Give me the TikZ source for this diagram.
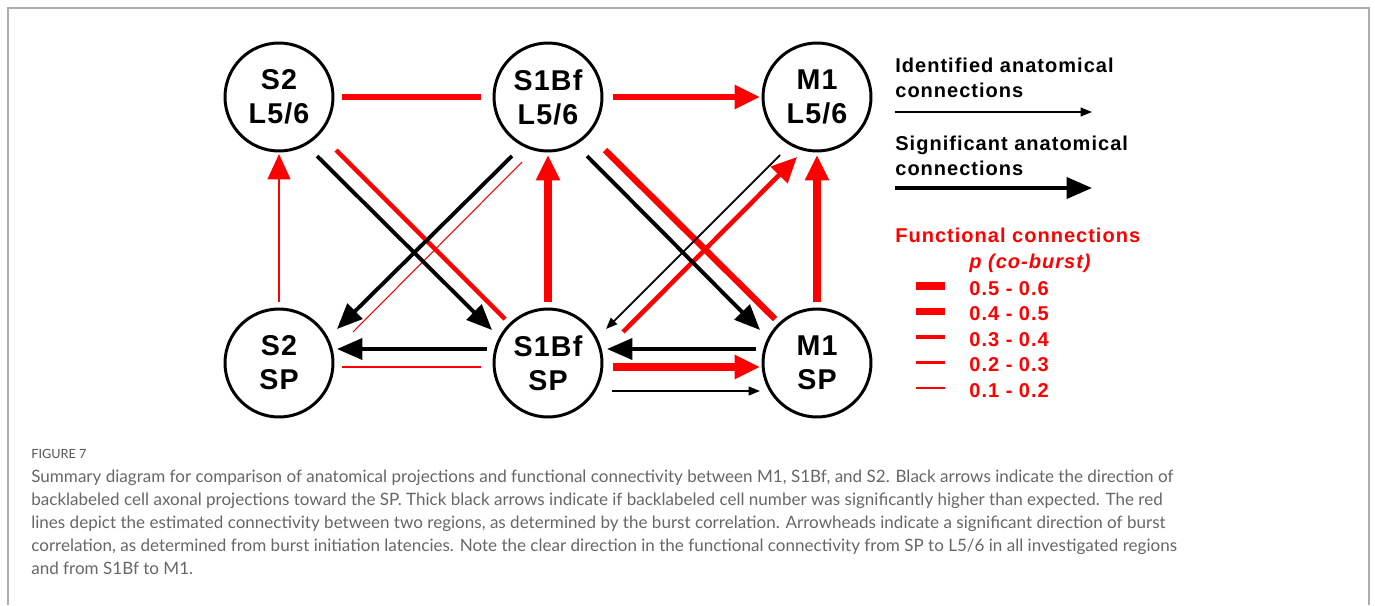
\documentclass[tikz,border=0pt]{standalone}
\usepackage{fontspec}
\setmainfont{Liberation Sans}
\newfontfamily\capfont{Lato}
\newfontfamily\legfont[LetterSpace=5]{Liberation Sans}
\newfontfamily\areafont[LetterSpace=4]{Liberation Sans}
\usetikzlibrary{arrows.meta}
\definecolor{capgray}{HTML}{666666}
\definecolor{figgray}{HTML}{555555}
\definecolor{framegray}{HTML}{ADADAD}

\begin{document}
\begin{tikzpicture}[x=0.02cm, y=-0.02cm,
	area/.style={circle, draw, line width=1.7pt, minimum size=2.16cm, inner sep=0pt, align=center, font=\areafont\fontsize{16.3}{19.3}\selectfont\bfseries},
	sig/.style={line width=2.2pt, -{Triangle[length=14.5pt,width=12pt]}},
	ident/.style={line width=1pt, -{Triangle[length=6.5pt,width=5pt]}},
	fhead/.style={-{Triangle[length=14.5pt,width=13pt]}},
	p56/.style={red, line width=4.3pt},
	p45/.style={red, line width=3.6pt},
	p34/.style={red, line width=2.6pt},
	p23/.style={red, line width=1.15pt},
	p12/.style={red, line width=0.6pt},
	legtxt/.style={font=\legfont\fontsize{11.4}{14.2}\selectfont\bfseries, inner sep=0pt, anchor=base west, align=left},
	captxt/.style={font=\capfont\fontsize{9.7}{13}\selectfont, text=capgray, inner sep=0pt, anchor=base west, align=left}
	]
	\useasboundingbox (0,0) rectangle (1375,605);
	\draw[framegray, line width=0.85pt] (8,605) -- (8,8) -- (1369,8) -- (1369,605);

	% areas
	\node[area] (s2l) at (279,97) {S2\\L5/6};
	\node[area] (s1l) at (548,97) {S1Bf\\L5/6};
	\node[area] (m1l) at (817,97) {M1\\L5/6};
	\node[area] (s2sp) at (279,363) {S2\\SP};
	\node[area] (s1sp) at (548,363) {S1Bf\\SP};
	\node[area] (m1sp) at (817,363) {M1\\SP};

	% functional connections
	\draw[p45] ([shift={(63,0)}]s2l.center) -- ([shift={(-67,0)}]s1l.center);
	\draw[p45, fhead] ([shift={(65,0)}]s1l.center) -- ([shift={(-57,0)}]m1l.center);
	\draw[p23, fhead] ([shift={(0,-61)}]s2sp.center) -- ([shift={(0,57)}]s2l.center);
	\draw[p56, fhead] ([shift={(0,-61)}]s1sp.center) -- ([shift={(0,58)}]s1l.center);
	\draw[p56, fhead] ([shift={(0,-61)}]m1sp.center) -- ([shift={(0,58)}]m1l.center);
	\draw[p34] ([shift={(57,53)}]s2l.center) -- ([shift={(-43,-44)}]s1sp.center);
	\draw[p12] ([shift={(-26,65)}]s1l.center) -- ([shift={(74,-31)}]s2sp.center);
	\draw[p45] ([shift={(57,53)}]s1l.center) -- ([shift={(-42,-44)}]m1sp.center);
	\draw[p34, fhead] ([shift={(75,-31)}]s1sp.center) -- ([shift={(-20,60)}]m1l.center);
	\draw[p23] ([shift={(-67,4)}]s1sp.center) -- ([shift={(63,4)}]s2sp.center);
	\draw[p56, fhead] ([shift={(65,4)}]s1sp.center) -- ([shift={(-57,4)}]m1sp.center);

	% anatomical connections
	\draw[sig] ([shift={(38,59)}]s2l.center) -- ([shift={(-56,-33)}]s1sp.center);
	\draw[sig] ([shift={(-36,59)}]s1l.center) -- ([shift={(58,-34)}]s2sp.center);
	\draw[sig] ([shift={(39,59)}]s1l.center) -- ([shift={(-57,-33)}]m1sp.center);
	\draw[ident] ([shift={(-37,58)}]m1l.center) -- ([shift={(58,-34)}]s1sp.center);
	\draw[sig] ([shift={(-61,-14)}]s1sp.center) -- ([shift={(58,-14)}]s2sp.center);
	\draw[sig] ([shift={(-61,-14)}]m1sp.center) -- ([shift={(59,-14)}]s1sp.center);
	\draw[ident] ([shift={(64,28)}]s1sp.center) -- ([shift={(-57,28)}]m1sp.center);

	% legend (multi-line nodes sit on their last baseline)
	\node[legtxt] (identtxt) at (895,97) {Identified anatomical\\connections};
	\coordinate (identA) at (895,112);
	\coordinate (identB) at (1092,112);
	\draw[ident] (identA) -- (identB);
	\node[legtxt] (sigtxt) at (895,175) {Significant anatomical\\connections};
	\coordinate (sigA) at (895,188);
	\coordinate (sigB) at (1092,188);
	\draw[sig] (sigA) -- (sigB);
	\node[legtxt, text=red] (functxt) at (895,242) {Functional connections};
	\node[legtxt, text=red] (ptxt) at (969,268) {\itshape p (co-burst)};
	\foreach \k/\lab/\sty in {0/0.5 - 0.6/p56, 1/0.4 - 0.5/p45, 2/0.3 - 0.4/p34, 3/0.2 - 0.3/p23, 4/0.1 - 0.2/p12}{
		\node[legtxt, text=red] (val\k) at (969,295+25.5*\k) {\lab};
		\draw[\sty] (916,286+25.5*\k) -- (945,286+25.5*\k);
	}

	% caption
	\node[captxt, font=\capfont\fontsize{7.2}{10}\selectfont, text=figgray] (fig) at (31,458) {FIGURE 7};
	\node[captxt] (cap) at (31,574) {Summary diagram for comparison of anatomical projections and functional connectivity between M1, S1Bf, and S2. Black arrows indicate the direction of\\
		backlabeled cell axonal projections toward the SP. Thick black arrows indicate if backlabeled cell number was significantly higher than expected. The red\\
		lines depict the estimated connectivity between two regions, as determined by the burst correlation. Arrowheads indicate a significant direction of burst\\
		correlation, as determined from burst initiation latencies. Note the clear direction in the functional connectivity from SP to L5/6 in all investigated regions\\
		and from S1Bf to M1.};
\end{tikzpicture}
\end{document}
